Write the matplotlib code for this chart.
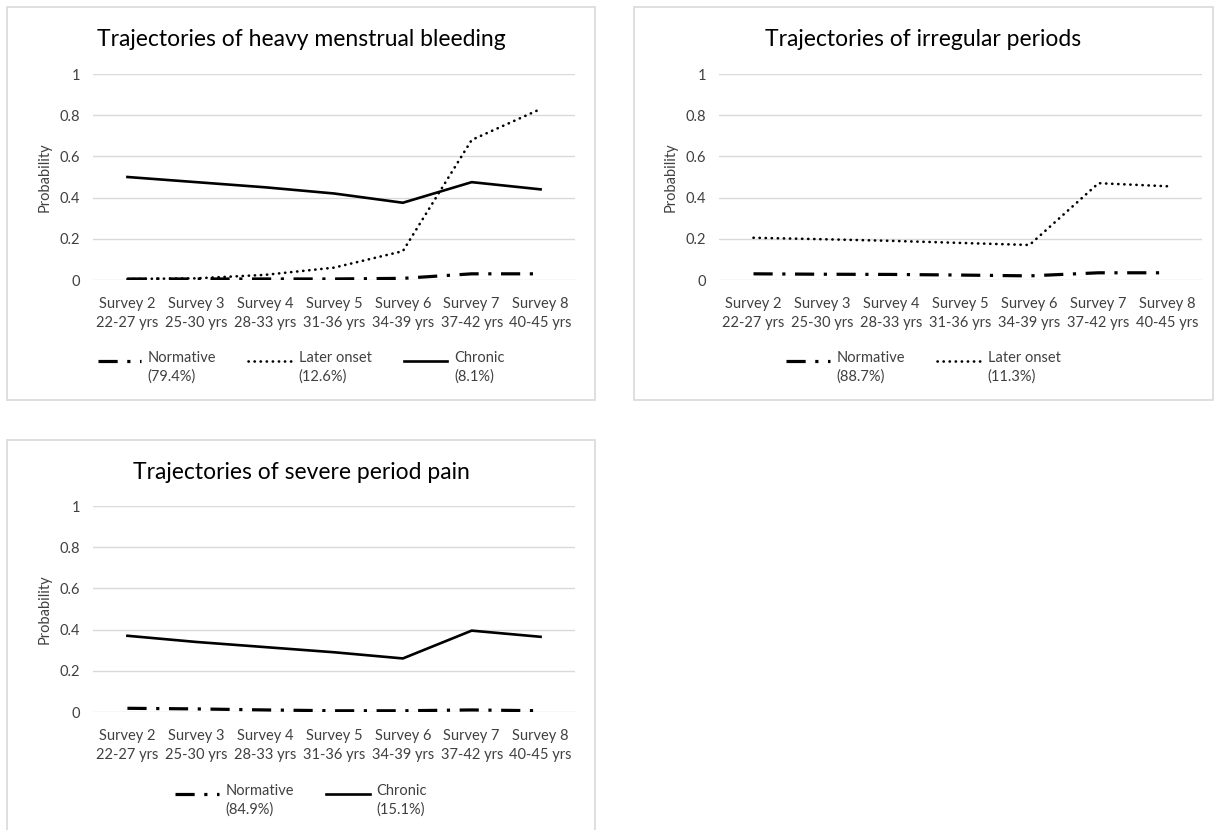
import matplotlib
matplotlib.use("Agg")
import matplotlib.pyplot as plt
from matplotlib.patches import Rectangle
from matplotlib.legend_handler import HandlerLine2D

plt.rcParams["font.family"] = ["Lato", "DejaVu Sans"]

surveys = ["Survey 2\n22-27 yrs", "Survey 3\n25-30 yrs", "Survey 4\n28-33 yrs",
           "Survey 5\n31-36 yrs", "Survey 6\n34-39 yrs", "Survey 7\n37-42 yrs",
           "Survey 8\n40-45 yrs"]
y_ticks = [0, 0.2, 0.4, 0.6, 0.8, 1]
y_ticklabels = ["0", "0.2", "0.4", "0.6", "0.8", "1"]

# heavy menstrual bleeding
hmb_normative = [0.005, 0.005, 0.005, 0.005, 0.008, 0.03, 0.03]
hmb_later = [0.005, 0.008, 0.025, 0.06, 0.14, 0.68, 0.83]
hmb_chronic = [0.50, 0.475, 0.45, 0.42, 0.375, 0.475, 0.44]
hmb_labels = ["Normative\n(79.4%)", "Later onset\n(12.6%)", "Chronic\n(8.1%)"]

# irregular periods
irr_normative = [0.03, 0.028, 0.027, 0.024, 0.02, 0.035, 0.035]
irr_later = [0.205, 0.198, 0.19, 0.18, 0.17, 0.47, 0.455]
irr_labels = ["Normative\n(88.7%)", "Later onset\n(11.3%)"]

# severe period pain
pain_normative = [0.018, 0.015, 0.01, 0.006, 0.006, 0.01, 0.006]
pain_chronic = [0.37, 0.34, 0.315, 0.29, 0.26, 0.395, 0.365]
pain_labels = ["Normative\n(84.9%)", "Chronic\n(15.1%)"]

W, H = 1214, 830
fig = plt.figure(figsize=(W / 100, H / 100), dpi=100)

styles = {
    "normative": dict(color="black", lw=2.3, linestyle=(0, (6, 3, 1, 3)),
                      dash_capstyle="butt"),
    "later": dict(color="black", lw=1.9, linestyle=(0, (0.1, 2.2)),
                  dash_capstyle="round"),
    "chronic": dict(color="black", lw=1.9, linestyle="-"),
}


class FirstLineHandler(HandlerLine2D):
    # put the legend line level with the first line of a two-line label
    def create_artists(self, legend, orig_handle, xdescent, ydescent,
                       width, height, fontsize, trans):
        arts = super().create_artists(legend, orig_handle, xdescent, ydescent,
                                      width, height, fontsize, trans)
        for a in arts:
            a.set_ydata([y + 0.5 * fontsize for y in a.get_ydata()])
        return arts


def px_axes(x0, x1, y0, y1):
    return fig.add_axes([x0 / W, 1 - y1 / H, (x1 - x0) / W, (y1 - y0) / H])


def panel_box(x0, x1, y0, y1):
    fig.patches.append(Rectangle((x0 / W, 1 - y1 / H), (x1 - x0) / W, (y1 - y0) / H,
                                 transform=fig.transFigure, fill=False,
                                 edgecolor="#d9d9d9", lw=1.2))


def draw_panel(ax, title, series, labels, box):
    x0, x1, y0 = box
    x = range(len(surveys))
    handles = []
    for (vals, key), lab in zip(series, labels):
        (ln,) = ax.plot(x, vals, label=lab, **styles[key])
        handles.append(ln)
    ax.set_xlim(-0.5, len(surveys) - 0.5)
    ax.set_ylim(0, 1)
    ax.set_yticks(y_ticks)
    ax.set_yticklabels(y_ticklabels)
    ax.set_xticks(list(x))
    ax.set_xticklabels(surveys, linespacing=1.45)
    ax.tick_params(length=0, labelsize=10.5, colors="#404040", pad=9)
    ax.tick_params(axis="x", pad=12)
    ax.grid(axis="y", color="#d9d9d9", lw=1)
    ax.set_axisbelow(True)
    for s in ax.spines.values():
        s.set_visible(False)
    ax.set_ylabel("Probability", fontsize=10.5, color="#404040", labelpad=6)

    cx = (x0 + x1) / 2 / W
    fig.text(cx, 1 - (y0 + 32) / H, title, fontsize=16.5, ha="center", va="center")
    leg = fig.legend(handles=handles, ncol=len(handles), frameon=False,
                     loc="upper center", bbox_to_anchor=(cx, 1 - (y0 + 337) / H),
                     fontsize=10.5, handlelength=3.0, handletextpad=0.45,
                     columnspacing=2.2, borderpad=0,
                     handler_map={ln: FirstLineHandler() for ln in handles})
    for t in leg.get_texts():
        t.set_color("#404040")
        t.set_linespacing(1.4)
        t.set_multialignment("left")


panel_box(7, 595, 7, 400)
panel_box(634, 1213, 7, 400)
panel_box(7, 595, 440, 835)

ax1 = px_axes(93, 575, 74, 280)
draw_panel(ax1, "Trajectories of heavy menstrual bleeding",
           [(hmb_normative, "normative"), (hmb_later, "later"), (hmb_chronic, "chronic")],
           hmb_labels, (7, 595, 7))

ax2 = px_axes(719, 1202, 74, 280)
draw_panel(ax2, "Trajectories of irregular periods",
           [(irr_normative, "normative"), (irr_later, "later")],
           irr_labels, (634, 1213, 7))

ax3 = px_axes(93, 575, 506, 712)
draw_panel(ax3, "Trajectories of severe period pain",
           [(pain_normative, "normative"), (pain_chronic, "chronic")],
           pain_labels, (7, 595, 440))

fig.savefig("out.png", dpi=100, facecolor="white")
